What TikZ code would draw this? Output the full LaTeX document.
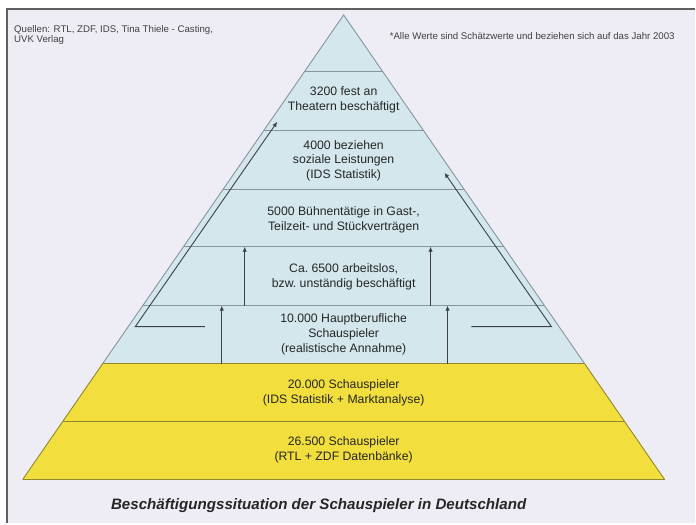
\documentclass[tikz,border=0pt]{standalone}
\usepackage{fontspec}
\setmainfont{Liberation Sans}
\usetikzlibrary{positioning,arrows.meta}

\definecolor{bgcol}{RGB}{238,237,245}
\definecolor{bandblue}{RGB}{211,231,236}
\definecolor{bandyellow}{RGB}{242,222,60}
\definecolor{sepcol}{RGB}{135,150,155}
\definecolor{framecol}{RGB}{95,95,95}
\definecolor{arrowcol}{RGB}{60,65,70}

\begin{document}
\begin{tikzpicture}[x=1bp,y=-1bp,
    band/.style={align=center,font=\fontsize{12.3}{15}\selectfont,text=black!85},
    sep/.style={draw=sepcol,line width=0.9bp},
    up/.style={-{Latex[length=5bp,width=4.5bp]},draw=arrowcol,line width=0.9bp}]
  % frame and background
  \fill [white] (0,0) rectangle (696,524);
  \fill [bgcol] (7,9) rectangle (696,524);
  \draw [framecol,line width=1.5bp] (7,524) -- (7,9) -- (696,9);

  % corners of the pyramid bands
  \coordinate (top) at (344,15);
  \coordinate (l72) at (304.6,72);   \coordinate (r72) at (383.4,72);
  \coordinate (l131) at (263.8,131); \coordinate (r131) at (424.2,131);
  \coordinate (l190) at (223.1,190); \coordinate (r190) at (464.9,190);
  \coordinate (l247) at (183.7,247); \coordinate (r247) at (504.3,247);
  \coordinate (l306) at (142.9,306); \coordinate (r306) at (545.1,306);
  \coordinate (l364) at (102.8,364); \coordinate (r364) at (585.2,364);
  \coordinate (l422) at (62.8,422);  \coordinate (r422) at (625.2,422);
  \coordinate (l480) at (22.7,480);  \coordinate (r480) at (665.3,480);

  \fill [bandblue] (top) -- (l364) -- (r364) -- cycle;
  \fill [bandyellow] (l364) -- (l480) -- (r480) -- (r364) -- cycle;
  \draw [sep] (l72) -- (r72);
  \draw [sep] (l131) -- (r131);
  \draw [sep] (l190) -- (r190);
  \draw [sep] (l247) -- (r247);
  \draw [sep] (l306) -- (r306);
  \draw [sep,draw=olive!70!gray] (l364) -- (r364);
  \draw [sep,draw=olive!70!gray] (l422) -- (r422);
  \draw [sep,draw=olive!70!gray] (l480) -- (r480);
  \draw [sep] (l364) -- (top) -- (r364);
  \draw [sep,draw=olive!70!gray] (l364) -- (l480);
  \draw [sep,draw=olive!70!gray] (r364) -- (r480);

  % texts of the bands
  \node [band] (t3200) at (344,100) {3200 fest an\\Theatern beschäftigt};
  \node [band] (t4000) at (344,161) {4000 beziehen\\soziale Leistungen\\(IDS Statistik)};
  \node [band] (t5000) at (344,220) {5000 Bühnentätige in Gast-,\\Teilzeit- und Stückverträgen};
  \node [band] (t6500) at (344,277) {Ca.\ 6500 arbeitslos,\\bzw.\ unständig beschäftigt};
  \node [band] (t10000) at (344,335) {10.000 Hauptberufliche\\Schauspieler\\(realistische Annahme)};
  \node [band] (t20000) at (344,393) {20.000 Schauspieler\\(IDS Statistik + Marktanalyse)};
  \node [band] (t26500) at (344,450) {26.500 Schauspieler\\(RTL + ZDF Datenbänke)};

  % arrows
  \coordinate (la0) at (205,327);
  \coordinate (la1) at (135.4,327);
  \coordinate (la2) at (277.5,122);
  \coordinate (ra0) at (472,327);
  \coordinate (ra1) at (552,327);
  \coordinate (ra2) at (445,173);
  \draw [up] (la0) -- (la1) -- (la2);
  \draw [up] (ra0) -- (ra1) -- (ra2);

  \coordinate (a1s) at (222,364); \coordinate (a1e) at (222,306);
  \coordinate (a2s) at (448,364); \coordinate (a2e) at (448,306);
  \coordinate (a3s) at (245,306); \coordinate (a3e) at (245,247);
  \coordinate (a4s) at (431,306); \coordinate (a4e) at (431,247);
  \draw [up] (a1s) -- (a1e);
  \draw [up] (a2s) -- (a2e);
  \draw [up] (a3s) -- (a3e);
  \draw [up] (a4s) -- (a4e);

  % notes and title
  \node [anchor=north west,inner sep=0,align=left,font=\fontsize{9.7}{10.5}\selectfont,text=black!75]
    (quellen) at (14,25) {Quellen: RTL, ZDF, IDS, Tina Thiele - Casting,\\UVK Verlag};
  \node [anchor=west,inner sep=0,font=\fontsize{9.7}{10.5}\selectfont,text=black!75]
    (hinweis) at (390,36) {*Alle Werte sind Schätzwerte und beziehen sich auf das Jahr 2003};
  \node [font=\fontsize{15.2}{17}\selectfont\bfseries\itshape,text=black!85]
    (titel) at (319,506) {Beschäftigungssituation der Schauspieler in Deutschland};
\end{tikzpicture}
\end{document}
